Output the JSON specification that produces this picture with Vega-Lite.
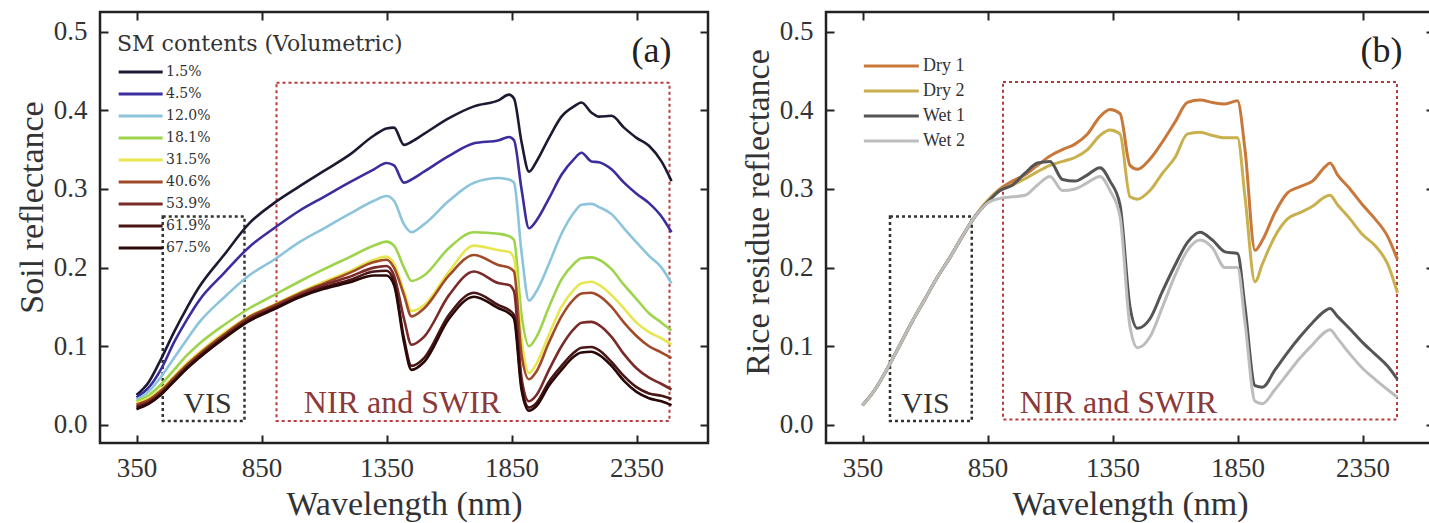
{
  "$schema": "https://vega.github.io/schema/vega-lite/v6.json",
  "background": "white",
  "padding": {"left": 14, "top": 9, "right": 0, "bottom": 0},
  "spacing": 29,
  "config": {
    "view": {"stroke": "#222222", "strokeWidth": 2.5},
    "font": "Liberation Serif"
  },
  "resolve": {"scale": {"color": "independent"}, "legend": {"color": "independent"}},
  "datasets": {
    "a": [
      {"s":"1.5%","w":350,"r":0.038},{"s":"1.5%","w":400,"r":0.055},{"s":"1.5%","w":450,"r":0.085},{"s":"1.5%","w":500,"r":0.118},{"s":"1.5%","w":550,"r":0.148},{"s":"1.5%","w":600,"r":0.175},{"s":"1.5%","w":700,"r":0.216},{"s":"1.5%","w":800,"r":0.256},{"s":"1.5%","w":900,"r":0.282},{"s":"1.5%","w":1000,"r":0.303},{"s":"1.5%","w":1100,"r":0.323},{"s":"1.5%","w":1200,"r":0.343},{"s":"1.5%","w":1300,"r":0.368},{"s":"1.5%","w":1350,"r":0.377},{"s":"1.5%","w":1380,"r":0.378},{"s":"1.5%","w":1420,"r":0.356},{"s":"1.5%","w":1450,"r":0.36},{"s":"1.5%","w":1500,"r":0.37},{"s":"1.5%","w":1600,"r":0.39},{"s":"1.5%","w":1700,"r":0.405},{"s":"1.5%","w":1800,"r":0.413},{"s":"1.5%","w":1840,"r":0.42},{"s":"1.5%","w":1860,"r":0.415},{"s":"1.5%","w":1890,"r":0.36},{"s":"1.5%","w":1920,"r":0.322},{"s":"1.5%","w":1950,"r":0.335},{"s":"1.5%","w":2000,"r":0.365},{"s":"1.5%","w":2050,"r":0.392},{"s":"1.5%","w":2100,"r":0.405},{"s":"1.5%","w":2130,"r":0.41},{"s":"1.5%","w":2170,"r":0.397},{"s":"1.5%","w":2200,"r":0.392},{"s":"1.5%","w":2250,"r":0.393},{"s":"1.5%","w":2300,"r":0.378},{"s":"1.5%","w":2350,"r":0.365},{"s":"1.5%","w":2400,"r":0.355},{"s":"1.5%","w":2450,"r":0.335},{"s":"1.5%","w":2490,"r":0.31},
      {"s":"4.5%","w":350,"r":0.035},{"s":"4.5%","w":400,"r":0.048},{"s":"4.5%","w":450,"r":0.072},{"s":"4.5%","w":500,"r":0.105},{"s":"4.5%","w":550,"r":0.133},{"s":"4.5%","w":600,"r":0.158},{"s":"4.5%","w":700,"r":0.193},{"s":"4.5%","w":800,"r":0.226},{"s":"4.5%","w":900,"r":0.25},{"s":"4.5%","w":1000,"r":0.272},{"s":"4.5%","w":1100,"r":0.29},{"s":"4.5%","w":1200,"r":0.308},{"s":"4.5%","w":1300,"r":0.325},{"s":"4.5%","w":1350,"r":0.333},{"s":"4.5%","w":1380,"r":0.33},{"s":"4.5%","w":1420,"r":0.308},{"s":"4.5%","w":1450,"r":0.312},{"s":"4.5%","w":1500,"r":0.322},{"s":"4.5%","w":1600,"r":0.342},{"s":"4.5%","w":1700,"r":0.358},{"s":"4.5%","w":1800,"r":0.362},{"s":"4.5%","w":1840,"r":0.366},{"s":"4.5%","w":1860,"r":0.362},{"s":"4.5%","w":1890,"r":0.3},{"s":"4.5%","w":1920,"r":0.25},{"s":"4.5%","w":1950,"r":0.26},{"s":"4.5%","w":2000,"r":0.288},{"s":"4.5%","w":2050,"r":0.318},{"s":"4.5%","w":2100,"r":0.338},{"s":"4.5%","w":2130,"r":0.346},{"s":"4.5%","w":2170,"r":0.335},{"s":"4.5%","w":2200,"r":0.334},{"s":"4.5%","w":2250,"r":0.325},{"s":"4.5%","w":2300,"r":0.308},{"s":"4.5%","w":2350,"r":0.294},{"s":"4.5%","w":2400,"r":0.282},{"s":"4.5%","w":2450,"r":0.265},{"s":"4.5%","w":2490,"r":0.245},
      {"s":"12.0%","w":350,"r":0.032},{"s":"12.0%","w":400,"r":0.043},{"s":"12.0%","w":450,"r":0.062},{"s":"12.0%","w":500,"r":0.085},{"s":"12.0%","w":550,"r":0.108},{"s":"12.0%","w":600,"r":0.13},{"s":"12.0%","w":700,"r":0.162},{"s":"12.0%","w":800,"r":0.19},{"s":"12.0%","w":900,"r":0.21},{"s":"12.0%","w":1000,"r":0.232},{"s":"12.0%","w":1100,"r":0.25},{"s":"12.0%","w":1200,"r":0.268},{"s":"12.0%","w":1300,"r":0.285},{"s":"12.0%","w":1350,"r":0.291},{"s":"12.0%","w":1380,"r":0.285},{"s":"12.0%","w":1420,"r":0.255},{"s":"12.0%","w":1450,"r":0.245},{"s":"12.0%","w":1500,"r":0.255},{"s":"12.0%","w":1600,"r":0.285},{"s":"12.0%","w":1700,"r":0.308},{"s":"12.0%","w":1800,"r":0.314},{"s":"12.0%","w":1840,"r":0.312},{"s":"12.0%","w":1860,"r":0.308},{"s":"12.0%","w":1890,"r":0.22},{"s":"12.0%","w":1920,"r":0.158},{"s":"12.0%","w":1950,"r":0.17},{"s":"12.0%","w":2000,"r":0.205},{"s":"12.0%","w":2050,"r":0.243},{"s":"12.0%","w":2100,"r":0.27},{"s":"12.0%","w":2130,"r":0.28},{"s":"12.0%","w":2170,"r":0.281},{"s":"12.0%","w":2200,"r":0.277},{"s":"12.0%","w":2250,"r":0.268},{"s":"12.0%","w":2300,"r":0.25},{"s":"12.0%","w":2350,"r":0.232},{"s":"12.0%","w":2400,"r":0.215},{"s":"12.0%","w":2450,"r":0.2},{"s":"12.0%","w":2490,"r":0.18},
      {"s":"18.1%","w":350,"r":0.03},{"s":"18.1%","w":400,"r":0.038},{"s":"18.1%","w":450,"r":0.052},{"s":"18.1%","w":500,"r":0.07},{"s":"18.1%","w":550,"r":0.088},{"s":"18.1%","w":600,"r":0.103},{"s":"18.1%","w":700,"r":0.127},{"s":"18.1%","w":800,"r":0.148},{"s":"18.1%","w":900,"r":0.165},{"s":"18.1%","w":1000,"r":0.182},{"s":"18.1%","w":1100,"r":0.198},{"s":"18.1%","w":1200,"r":0.213},{"s":"18.1%","w":1300,"r":0.228},{"s":"18.1%","w":1350,"r":0.233},{"s":"18.1%","w":1380,"r":0.228},{"s":"18.1%","w":1420,"r":0.2},{"s":"18.1%","w":1450,"r":0.183},{"s":"18.1%","w":1500,"r":0.19},{"s":"18.1%","w":1600,"r":0.225},{"s":"18.1%","w":1700,"r":0.245},{"s":"18.1%","w":1800,"r":0.243},{"s":"18.1%","w":1840,"r":0.24},{"s":"18.1%","w":1860,"r":0.235},{"s":"18.1%","w":1890,"r":0.14},{"s":"18.1%","w":1920,"r":0.1},{"s":"18.1%","w":1950,"r":0.112},{"s":"18.1%","w":2000,"r":0.15},{"s":"18.1%","w":2050,"r":0.185},{"s":"18.1%","w":2100,"r":0.205},{"s":"18.1%","w":2130,"r":0.212},{"s":"18.1%","w":2170,"r":0.213},{"s":"18.1%","w":2200,"r":0.21},{"s":"18.1%","w":2250,"r":0.198},{"s":"18.1%","w":2300,"r":0.178},{"s":"18.1%","w":2350,"r":0.16},{"s":"18.1%","w":2400,"r":0.142},{"s":"18.1%","w":2450,"r":0.13},{"s":"18.1%","w":2490,"r":0.12},
      {"s":"31.5%","w":350,"r":0.028},{"s":"31.5%","w":400,"r":0.034},{"s":"31.5%","w":450,"r":0.046},{"s":"31.5%","w":500,"r":0.062},{"s":"31.5%","w":550,"r":0.078},{"s":"31.5%","w":600,"r":0.092},{"s":"31.5%","w":700,"r":0.117},{"s":"31.5%","w":800,"r":0.138},{"s":"31.5%","w":900,"r":0.153},{"s":"31.5%","w":1000,"r":0.168},{"s":"31.5%","w":1100,"r":0.182},{"s":"31.5%","w":1200,"r":0.195},{"s":"31.5%","w":1300,"r":0.21},{"s":"31.5%","w":1350,"r":0.214},{"s":"31.5%","w":1380,"r":0.205},{"s":"31.5%","w":1420,"r":0.17},{"s":"31.5%","w":1450,"r":0.145},{"s":"31.5%","w":1500,"r":0.152},{"s":"31.5%","w":1600,"r":0.195},{"s":"31.5%","w":1700,"r":0.228},{"s":"31.5%","w":1800,"r":0.222},{"s":"31.5%","w":1840,"r":0.22},{"s":"31.5%","w":1860,"r":0.212},{"s":"31.5%","w":1890,"r":0.11},{"s":"31.5%","w":1920,"r":0.066},{"s":"31.5%","w":1950,"r":0.078},{"s":"31.5%","w":2000,"r":0.115},{"s":"31.5%","w":2050,"r":0.15},{"s":"31.5%","w":2100,"r":0.172},{"s":"31.5%","w":2130,"r":0.18},{"s":"31.5%","w":2170,"r":0.182},{"s":"31.5%","w":2200,"r":0.178},{"s":"31.5%","w":2250,"r":0.165},{"s":"31.5%","w":2300,"r":0.148},{"s":"31.5%","w":2350,"r":0.13},{"s":"31.5%","w":2400,"r":0.118},{"s":"31.5%","w":2450,"r":0.11},{"s":"31.5%","w":2490,"r":0.102},
      {"s":"40.6%","w":350,"r":0.026},{"s":"40.6%","w":400,"r":0.032},{"s":"40.6%","w":450,"r":0.044},{"s":"40.6%","w":500,"r":0.06},{"s":"40.6%","w":550,"r":0.076},{"s":"40.6%","w":600,"r":0.09},{"s":"40.6%","w":700,"r":0.115},{"s":"40.6%","w":800,"r":0.137},{"s":"40.6%","w":900,"r":0.152},{"s":"40.6%","w":1000,"r":0.167},{"s":"40.6%","w":1100,"r":0.18},{"s":"40.6%","w":1200,"r":0.193},{"s":"40.6%","w":1300,"r":0.207},{"s":"40.6%","w":1350,"r":0.21},{"s":"40.6%","w":1380,"r":0.2},{"s":"40.6%","w":1420,"r":0.165},{"s":"40.6%","w":1450,"r":0.138},{"s":"40.6%","w":1500,"r":0.148},{"s":"40.6%","w":1600,"r":0.19},{"s":"40.6%","w":1700,"r":0.216},{"s":"40.6%","w":1800,"r":0.203},{"s":"40.6%","w":1840,"r":0.2},{"s":"40.6%","w":1860,"r":0.195},{"s":"40.6%","w":1890,"r":0.09},{"s":"40.6%","w":1920,"r":0.058},{"s":"40.6%","w":1950,"r":0.068},{"s":"40.6%","w":2000,"r":0.105},{"s":"40.6%","w":2050,"r":0.138},{"s":"40.6%","w":2100,"r":0.16},{"s":"40.6%","w":2130,"r":0.167},{"s":"40.6%","w":2170,"r":0.168},{"s":"40.6%","w":2200,"r":0.164},{"s":"40.6%","w":2250,"r":0.15},{"s":"40.6%","w":2300,"r":0.13},{"s":"40.6%","w":2350,"r":0.113},{"s":"40.6%","w":2400,"r":0.1},{"s":"40.6%","w":2450,"r":0.092},{"s":"40.6%","w":2490,"r":0.085},
      {"s":"53.9%","w":350,"r":0.024},{"s":"53.9%","w":400,"r":0.03},{"s":"53.9%","w":450,"r":0.042},{"s":"53.9%","w":500,"r":0.058},{"s":"53.9%","w":550,"r":0.074},{"s":"53.9%","w":600,"r":0.088},{"s":"53.9%","w":700,"r":0.113},{"s":"53.9%","w":800,"r":0.135},{"s":"53.9%","w":900,"r":0.15},{"s":"53.9%","w":1000,"r":0.165},{"s":"53.9%","w":1100,"r":0.178},{"s":"53.9%","w":1200,"r":0.188},{"s":"53.9%","w":1300,"r":0.2},{"s":"53.9%","w":1350,"r":0.202},{"s":"53.9%","w":1380,"r":0.19},{"s":"53.9%","w":1420,"r":0.135},{"s":"53.9%","w":1450,"r":0.102},{"s":"53.9%","w":1500,"r":0.112},{"s":"53.9%","w":1600,"r":0.165},{"s":"53.9%","w":1700,"r":0.195},{"s":"53.9%","w":1800,"r":0.18},{"s":"53.9%","w":1840,"r":0.178},{"s":"53.9%","w":1860,"r":0.17},{"s":"53.9%","w":1890,"r":0.06},{"s":"53.9%","w":1920,"r":0.03},{"s":"53.9%","w":1950,"r":0.038},{"s":"53.9%","w":2000,"r":0.07},{"s":"53.9%","w":2050,"r":0.1},{"s":"53.9%","w":2100,"r":0.122},{"s":"53.9%","w":2130,"r":0.13},{"s":"53.9%","w":2170,"r":0.131},{"s":"53.9%","w":2200,"r":0.127},{"s":"53.9%","w":2250,"r":0.112},{"s":"53.9%","w":2300,"r":0.09},{"s":"53.9%","w":2350,"r":0.072},{"s":"53.9%","w":2400,"r":0.06},{"s":"53.9%","w":2450,"r":0.052},{"s":"53.9%","w":2490,"r":0.045},
      {"s":"61.9%","w":350,"r":0.022},{"s":"61.9%","w":400,"r":0.028},{"s":"61.9%","w":450,"r":0.04},{"s":"61.9%","w":500,"r":0.056},{"s":"61.9%","w":550,"r":0.072},{"s":"61.9%","w":600,"r":0.086},{"s":"61.9%","w":700,"r":0.111},{"s":"61.9%","w":800,"r":0.133},{"s":"61.9%","w":900,"r":0.148},{"s":"61.9%","w":1000,"r":0.163},{"s":"61.9%","w":1100,"r":0.175},{"s":"61.9%","w":1200,"r":0.184},{"s":"61.9%","w":1300,"r":0.195},{"s":"61.9%","w":1350,"r":0.196},{"s":"61.9%","w":1380,"r":0.183},{"s":"61.9%","w":1420,"r":0.11},{"s":"61.9%","w":1450,"r":0.075},{"s":"61.9%","w":1500,"r":0.085},{"s":"61.9%","w":1600,"r":0.14},{"s":"61.9%","w":1700,"r":0.168},{"s":"61.9%","w":1800,"r":0.152},{"s":"61.9%","w":1840,"r":0.146},{"s":"61.9%","w":1860,"r":0.14},{"s":"61.9%","w":1890,"r":0.05},{"s":"61.9%","w":1920,"r":0.022},{"s":"61.9%","w":1950,"r":0.028},{"s":"61.9%","w":2000,"r":0.055},{"s":"61.9%","w":2050,"r":0.075},{"s":"61.9%","w":2100,"r":0.092},{"s":"61.9%","w":2130,"r":0.098},{"s":"61.9%","w":2170,"r":0.099},{"s":"61.9%","w":2200,"r":0.095},{"s":"61.9%","w":2250,"r":0.08},{"s":"61.9%","w":2300,"r":0.062},{"s":"61.9%","w":2350,"r":0.048},{"s":"61.9%","w":2400,"r":0.04},{"s":"61.9%","w":2450,"r":0.037},{"s":"61.9%","w":2490,"r":0.033},
      {"s":"67.5%","w":350,"r":0.02},{"s":"67.5%","w":400,"r":0.027},{"s":"67.5%","w":450,"r":0.039},{"s":"67.5%","w":500,"r":0.055},{"s":"67.5%","w":550,"r":0.071},{"s":"67.5%","w":600,"r":0.085},{"s":"67.5%","w":700,"r":0.11},{"s":"67.5%","w":800,"r":0.132},{"s":"67.5%","w":900,"r":0.147},{"s":"67.5%","w":1000,"r":0.162},{"s":"67.5%","w":1100,"r":0.173},{"s":"67.5%","w":1200,"r":0.181},{"s":"67.5%","w":1300,"r":0.19},{"s":"67.5%","w":1350,"r":0.19},{"s":"67.5%","w":1380,"r":0.178},{"s":"67.5%","w":1420,"r":0.105},{"s":"67.5%","w":1450,"r":0.07},{"s":"67.5%","w":1500,"r":0.08},{"s":"67.5%","w":1600,"r":0.135},{"s":"67.5%","w":1700,"r":0.163},{"s":"67.5%","w":1800,"r":0.148},{"s":"67.5%","w":1840,"r":0.142},{"s":"67.5%","w":1860,"r":0.135},{"s":"67.5%","w":1890,"r":0.045},{"s":"67.5%","w":1920,"r":0.018},{"s":"67.5%","w":1950,"r":0.024},{"s":"67.5%","w":2000,"r":0.05},{"s":"67.5%","w":2050,"r":0.07},{"s":"67.5%","w":2100,"r":0.087},{"s":"67.5%","w":2130,"r":0.092},{"s":"67.5%","w":2170,"r":0.093},{"s":"67.5%","w":2200,"r":0.089},{"s":"67.5%","w":2250,"r":0.075},{"s":"67.5%","w":2300,"r":0.056},{"s":"67.5%","w":2350,"r":0.042},{"s":"67.5%","w":2400,"r":0.034},{"s":"67.5%","w":2450,"r":0.03},{"s":"67.5%","w":2490,"r":0.025}
    ],
    "b": [
      {"s":"Dry 1","w":350,"r":0.025},{"s":"Dry 1","w":400,"r":0.045},{"s":"Dry 1","w":450,"r":0.072},{"s":"Dry 1","w":500,"r":0.102},{"s":"Dry 1","w":550,"r":0.132},{"s":"Dry 1","w":600,"r":0.16},{"s":"Dry 1","w":650,"r":0.188},{"s":"Dry 1","w":700,"r":0.213},{"s":"Dry 1","w":750,"r":0.24},{"s":"Dry 1","w":800,"r":0.265},{"s":"Dry 1","w":850,"r":0.285},{"s":"Dry 1","w":900,"r":0.3},{"s":"Dry 1","w":950,"r":0.31},{"s":"Dry 1","w":1000,"r":0.318},{"s":"Dry 1","w":1050,"r":0.33},{"s":"Dry 1","w":1100,"r":0.342},{"s":"Dry 1","w":1150,"r":0.35},{"s":"Dry 1","w":1200,"r":0.357},{"s":"Dry 1","w":1250,"r":0.37},{"s":"Dry 1","w":1300,"r":0.392},{"s":"Dry 1","w":1340,"r":0.401},{"s":"Dry 1","w":1380,"r":0.396},{"s":"Dry 1","w":1420,"r":0.33},{"s":"Dry 1","w":1450,"r":0.325},{"s":"Dry 1","w":1500,"r":0.338},{"s":"Dry 1","w":1550,"r":0.36},{"s":"Dry 1","w":1600,"r":0.385},{"s":"Dry 1","w":1650,"r":0.41},{"s":"Dry 1","w":1700,"r":0.413},{"s":"Dry 1","w":1750,"r":0.41},{"s":"Dry 1","w":1800,"r":0.408},{"s":"Dry 1","w":1850,"r":0.412},{"s":"Dry 1","w":1880,"r":0.35},{"s":"Dry 1","w":1920,"r":0.222},{"s":"Dry 1","w":1950,"r":0.235},{"s":"Dry 1","w":2000,"r":0.27},{"s":"Dry 1","w":2050,"r":0.295},{"s":"Dry 1","w":2100,"r":0.303},{"s":"Dry 1","w":2150,"r":0.31},{"s":"Dry 1","w":2200,"r":0.328},{"s":"Dry 1","w":2220,"r":0.333},{"s":"Dry 1","w":2250,"r":0.318},{"s":"Dry 1","w":2300,"r":0.3},{"s":"Dry 1","w":2350,"r":0.28},{"s":"Dry 1","w":2400,"r":0.262},{"s":"Dry 1","w":2450,"r":0.24},{"s":"Dry 1","w":2490,"r":0.21},
      {"s":"Dry 2","w":350,"r":0.025},{"s":"Dry 2","w":400,"r":0.045},{"s":"Dry 2","w":450,"r":0.072},{"s":"Dry 2","w":500,"r":0.102},{"s":"Dry 2","w":550,"r":0.132},{"s":"Dry 2","w":600,"r":0.16},{"s":"Dry 2","w":650,"r":0.188},{"s":"Dry 2","w":700,"r":0.213},{"s":"Dry 2","w":750,"r":0.24},{"s":"Dry 2","w":800,"r":0.265},{"s":"Dry 2","w":850,"r":0.285},{"s":"Dry 2","w":900,"r":0.298},{"s":"Dry 2","w":950,"r":0.305},{"s":"Dry 2","w":1000,"r":0.313},{"s":"Dry 2","w":1050,"r":0.322},{"s":"Dry 2","w":1100,"r":0.33},{"s":"Dry 2","w":1150,"r":0.335},{"s":"Dry 2","w":1200,"r":0.34},{"s":"Dry 2","w":1250,"r":0.35},{"s":"Dry 2","w":1300,"r":0.368},{"s":"Dry 2","w":1340,"r":0.375},{"s":"Dry 2","w":1380,"r":0.37},{"s":"Dry 2","w":1420,"r":0.29},{"s":"Dry 2","w":1450,"r":0.287},{"s":"Dry 2","w":1500,"r":0.298},{"s":"Dry 2","w":1550,"r":0.32},{"s":"Dry 2","w":1600,"r":0.34},{"s":"Dry 2","w":1650,"r":0.37},{"s":"Dry 2","w":1700,"r":0.372},{"s":"Dry 2","w":1750,"r":0.368},{"s":"Dry 2","w":1800,"r":0.365},{"s":"Dry 2","w":1850,"r":0.365},{"s":"Dry 2","w":1880,"r":0.29},{"s":"Dry 2","w":1920,"r":0.182},{"s":"Dry 2","w":1950,"r":0.205},{"s":"Dry 2","w":2000,"r":0.24},{"s":"Dry 2","w":2050,"r":0.262},{"s":"Dry 2","w":2100,"r":0.27},{"s":"Dry 2","w":2150,"r":0.278},{"s":"Dry 2","w":2200,"r":0.29},{"s":"Dry 2","w":2220,"r":0.292},{"s":"Dry 2","w":2250,"r":0.28},{"s":"Dry 2","w":2300,"r":0.262},{"s":"Dry 2","w":2350,"r":0.242},{"s":"Dry 2","w":2400,"r":0.228},{"s":"Dry 2","w":2450,"r":0.205},{"s":"Dry 2","w":2490,"r":0.168},
      {"s":"Wet 1","w":350,"r":0.025},{"s":"Wet 1","w":400,"r":0.045},{"s":"Wet 1","w":450,"r":0.072},{"s":"Wet 1","w":500,"r":0.102},{"s":"Wet 1","w":550,"r":0.132},{"s":"Wet 1","w":600,"r":0.16},{"s":"Wet 1","w":650,"r":0.188},{"s":"Wet 1","w":700,"r":0.213},{"s":"Wet 1","w":750,"r":0.24},{"s":"Wet 1","w":800,"r":0.265},{"s":"Wet 1","w":850,"r":0.283},{"s":"Wet 1","w":900,"r":0.298},{"s":"Wet 1","w":950,"r":0.305},{"s":"Wet 1","w":1000,"r":0.32},{"s":"Wet 1","w":1050,"r":0.333},{"s":"Wet 1","w":1100,"r":0.335},{"s":"Wet 1","w":1150,"r":0.312},{"s":"Wet 1","w":1200,"r":0.31},{"s":"Wet 1","w":1250,"r":0.318},{"s":"Wet 1","w":1300,"r":0.327},{"s":"Wet 1","w":1340,"r":0.31},{"s":"Wet 1","w":1380,"r":0.28},{"s":"Wet 1","w":1420,"r":0.15},{"s":"Wet 1","w":1450,"r":0.123},{"s":"Wet 1","w":1500,"r":0.135},{"s":"Wet 1","w":1550,"r":0.17},{"s":"Wet 1","w":1600,"r":0.203},{"s":"Wet 1","w":1650,"r":0.232},{"s":"Wet 1","w":1700,"r":0.245},{"s":"Wet 1","w":1750,"r":0.235},{"s":"Wet 1","w":1800,"r":0.22},{"s":"Wet 1","w":1850,"r":0.218},{"s":"Wet 1","w":1880,"r":0.15},{"s":"Wet 1","w":1920,"r":0.05},{"s":"Wet 1","w":1950,"r":0.048},{"s":"Wet 1","w":2000,"r":0.07},{"s":"Wet 1","w":2050,"r":0.092},{"s":"Wet 1","w":2100,"r":0.112},{"s":"Wet 1","w":2150,"r":0.13},{"s":"Wet 1","w":2200,"r":0.145},{"s":"Wet 1","w":2220,"r":0.148},{"s":"Wet 1","w":2250,"r":0.138},{"s":"Wet 1","w":2300,"r":0.122},{"s":"Wet 1","w":2350,"r":0.105},{"s":"Wet 1","w":2400,"r":0.09},{"s":"Wet 1","w":2450,"r":0.075},{"s":"Wet 1","w":2490,"r":0.058},
      {"s":"Wet 2","w":350,"r":0.025},{"s":"Wet 2","w":400,"r":0.045},{"s":"Wet 2","w":450,"r":0.072},{"s":"Wet 2","w":500,"r":0.102},{"s":"Wet 2","w":550,"r":0.132},{"s":"Wet 2","w":600,"r":0.16},{"s":"Wet 2","w":650,"r":0.188},{"s":"Wet 2","w":700,"r":0.213},{"s":"Wet 2","w":750,"r":0.24},{"s":"Wet 2","w":800,"r":0.265},{"s":"Wet 2","w":850,"r":0.282},{"s":"Wet 2","w":900,"r":0.288},{"s":"Wet 2","w":950,"r":0.29},{"s":"Wet 2","w":1000,"r":0.292},{"s":"Wet 2","w":1050,"r":0.305},{"s":"Wet 2","w":1100,"r":0.316},{"s":"Wet 2","w":1150,"r":0.298},{"s":"Wet 2","w":1200,"r":0.3},{"s":"Wet 2","w":1250,"r":0.308},{"s":"Wet 2","w":1300,"r":0.316},{"s":"Wet 2","w":1340,"r":0.298},{"s":"Wet 2","w":1380,"r":0.265},{"s":"Wet 2","w":1420,"r":0.125},{"s":"Wet 2","w":1450,"r":0.098},{"s":"Wet 2","w":1500,"r":0.112},{"s":"Wet 2","w":1550,"r":0.15},{"s":"Wet 2","w":1600,"r":0.19},{"s":"Wet 2","w":1650,"r":0.222},{"s":"Wet 2","w":1700,"r":0.235},{"s":"Wet 2","w":1750,"r":0.225},{"s":"Wet 2","w":1800,"r":0.2},{"s":"Wet 2","w":1850,"r":0.2},{"s":"Wet 2","w":1880,"r":0.13},{"s":"Wet 2","w":1920,"r":0.03},{"s":"Wet 2","w":1950,"r":0.027},{"s":"Wet 2","w":2000,"r":0.045},{"s":"Wet 2","w":2050,"r":0.065},{"s":"Wet 2","w":2100,"r":0.085},{"s":"Wet 2","w":2150,"r":0.102},{"s":"Wet 2","w":2200,"r":0.118},{"s":"Wet 2","w":2220,"r":0.121},{"s":"Wet 2","w":2250,"r":0.11},{"s":"Wet 2","w":2300,"r":0.09},{"s":"Wet 2","w":2350,"r":0.072},{"s":"Wet 2","w":2400,"r":0.058},{"s":"Wet 2","w":2450,"r":0.045},{"s":"Wet 2","w":2490,"r":0.035}
    ]
  },
  "hconcat": [
    {
      "width": 608,
      "height": 431,
      "resolve": {"axis": {"x": "independent", "y": "independent"}},
      "layer": [
        {
          "data": {"values": [{"x": 455, "x2": 782, "y": 0.005, "y2": 0.265}]},
          "mark": {"type": "rect", "filled": false, "color": "#333333", "strokeWidth": 2.5, "strokeDash": [3, 3]},
          "encoding": {
            "x": {"field": "x", "type": "quantitative", "scale": {"domain": [204, 2636], "nice": false, "zero": false}, "axis": null},
            "x2": {"field": "x2"},
            "y": {"field": "y", "type": "quantitative", "scale": {"domain": [-0.023, 0.525], "nice": false, "zero": false}, "axis": null},
            "y2": {"field": "y2"}
          }
        },
        {
          "data": {"values": [{"x": 910, "x2": 2482, "y": 0.005, "y2": 0.435}]},
          "mark": {"type": "rect", "filled": false, "color": "#b83a3a", "strokeWidth": 2, "strokeDash": [3, 3]},
          "encoding": {
            "x": {"field": "x", "type": "quantitative", "scale": {"domain": [204, 2636], "nice": false, "zero": false}, "axis": null},
            "x2": {"field": "x2"},
            "y": {"field": "y", "type": "quantitative", "scale": {"domain": [-0.023, 0.525], "nice": false, "zero": false}, "axis": null},
            "y2": {"field": "y2"}
          }
        },
        {
          "data": {"name": "a"},
          "mark": {"type": "line", "strokeWidth": 2.6, "interpolate": "monotone"},
          "encoding": {
            "x": {"field": "w", "type": "quantitative", "scale": {"domain": [204, 2636], "nice": false, "zero": false},
              "axis": {"values": [350, 850, 1350, 1850, 2350], "format": "d", "title": "Wavelength (nm)", "tickSize": -8, "tickWidth": 2, "tickColor": "#222222", "domain": false, "grid": false, "labelPadding": 20, "labelFontSize": 27, "labelColor": "#333333", "labelFont": "Liberation Serif", "labelFlush": false, "labelOverlap": false, "titleFont": "Liberation Serif", "titleFontSize": 34, "titleFontWeight": "normal", "titleColor": "#333333", "titlePadding": 6}},
            "y": {"field": "r", "type": "quantitative", "scale": {"domain": [-0.023, 0.525], "nice": false, "zero": false},
              "axis": {"values": [0, 0.1, 0.2, 0.3, 0.4, 0.5], "format": ".1f", "title": "Soil reflectance", "tickSize": -8, "tickWidth": 2, "tickColor": "#222222", "domain": false, "grid": false, "labelPadding": 21, "labelFontSize": 27, "labelColor": "#333333", "labelFont": "Liberation Serif", "labelFlush": false, "labelOverlap": false, "titleFont": "Liberation Serif", "titleFontSize": 34, "titleFontWeight": "normal", "titleColor": "#333333", "titlePadding": 4, "titleY": 195}},
            "color": {"field": "s", "type": "nominal",
              "scale": {"domain": ["1.5%", "4.5%", "12.0%", "18.1%", "31.5%", "40.6%", "53.9%", "61.9%", "67.5%"], "range": ["#1c1a33", "#3b2d9e", "#8cc4dc", "#9ed44c", "#e8e650", "#a04a2a", "#7a2a28", "#4a1515", "#2a0808"]},
              "legend": {"orient": "none", "legendX": 17, "legendY": 22, "title": "SM contents (Volumetric)", "titleFont": "DejaVu Serif", "titleFontSize": 22, "titleFontWeight": "normal", "titleColor": "#333333", "titlePadding": 7, "titleLimit": 400, "labelFont": "DejaVu Serif", "labelFontSize": 14, "labelColor": "#333333", "symbolType": "M-1,0H5", "symbolSize": 215, "symbolStrokeWidth": 3, "labelOffset": 31, "rowPadding": 6, "padding": 0}}
          }
        },
        {
          "data": {"values": [{"x": 634, "y": 0.015, "t": "VIS"}]},
          "mark": {"type": "text", "font": "Liberation Serif", "fontSize": 30, "color": "#333333", "align": "center", "baseline": "alphabetic"},
          "encoding": {
            "x": {"field": "x", "type": "quantitative", "scale": {"domain": [204, 2636], "nice": false, "zero": false}, "axis": null},
            "y": {"field": "y", "type": "quantitative", "scale": {"domain": [-0.023, 0.525], "nice": false, "zero": false}, "axis": null},
            "text": {"field": "t"}
          }
        },
        {
          "data": {"values": [{"x": 1414, "y": 0.015, "t": "NIR and SWIR"}]},
          "mark": {"type": "text", "font": "Liberation Serif", "fontSize": 32, "color": "#8b3a3a", "align": "center", "baseline": "alphabetic"},
          "encoding": {
            "x": {"field": "x", "type": "quantitative", "scale": {"domain": [204, 2636], "nice": false, "zero": false}, "axis": null},
            "y": {"field": "y", "type": "quantitative", "scale": {"domain": [-0.023, 0.525], "nice": false, "zero": false}, "axis": null},
            "text": {"field": "t"}
          }
        },
        {
          "data": {"values": [{"x": 2490, "y": 0.462, "t": "(a)"}]},
          "mark": {"type": "text", "font": "Liberation Serif", "fontSize": 36, "color": "#222222", "align": "right", "baseline": "alphabetic"},
          "encoding": {
            "x": {"field": "x", "type": "quantitative", "scale": {"domain": [204, 2636], "nice": false, "zero": false}, "axis": null},
            "y": {"field": "y", "type": "quantitative", "scale": {"domain": [-0.023, 0.525], "nice": false, "zero": false}, "axis": null},
            "text": {"field": "t"}
          }
        },
        {
          "data": {"name": "a"},
          "mark": {"type": "point", "opacity": 0, "size": 0},
          "encoding": {
            "x": {"field": "w", "type": "quantitative", "scale": {"domain": [204, 2636], "nice": false, "zero": false},
              "axis": {"orient": "top", "values": [350, 850, 1350, 1850, 2350], "labels": false, "title": null, "tickSize": -8, "tickWidth": 2, "tickColor": "#222222", "domain": false, "grid": false}},
            "y": {"field": "r", "type": "quantitative", "scale": {"domain": [-0.023, 0.525], "nice": false, "zero": false},
              "axis": {"orient": "right", "values": [0, 0.1, 0.2, 0.3, 0.4, 0.5], "labels": false, "title": null, "tickSize": -8, "tickWidth": 2, "tickColor": "#222222", "domain": false, "grid": false}}
          }
        }
      ]
    },
    {
      "width": 608,
      "height": 431,
      "resolve": {"axis": {"x": "independent", "y": "independent"}},
      "layer": [
        {
          "data": {"values": [{"x": 460, "x2": 787, "y": 0.005, "y2": 0.265}]},
          "mark": {"type": "rect", "filled": false, "color": "#333333", "strokeWidth": 2.5, "strokeDash": [3, 3]},
          "encoding": {
            "x": {"field": "x", "type": "quantitative", "scale": {"domain": [204, 2636], "nice": false, "zero": false}, "axis": null},
            "x2": {"field": "x2"},
            "y": {"field": "y", "type": "quantitative", "scale": {"domain": [-0.023, 0.525], "nice": false, "zero": false}, "axis": null},
            "y2": {"field": "y2"}
          }
        },
        {
          "data": {"values": [{"x": 912, "x2": 2488, "y": 0.007, "y2": 0.436}]},
          "mark": {"type": "rect", "filled": false, "color": "#b83a3a", "strokeWidth": 2, "strokeDash": [3, 3]},
          "encoding": {
            "x": {"field": "x", "type": "quantitative", "scale": {"domain": [204, 2636], "nice": false, "zero": false}, "axis": null},
            "x2": {"field": "x2"},
            "y": {"field": "y", "type": "quantitative", "scale": {"domain": [-0.023, 0.525], "nice": false, "zero": false}, "axis": null},
            "y2": {"field": "y2"}
          }
        },
        {
          "data": {"name": "b"},
          "mark": {"type": "line", "strokeWidth": 3, "interpolate": "monotone"},
          "encoding": {
            "x": {"field": "w", "type": "quantitative", "scale": {"domain": [204, 2636], "nice": false, "zero": false},
              "axis": {"values": [350, 850, 1350, 1850, 2350], "format": "d", "title": "Wavelength (nm)", "tickSize": -8, "tickWidth": 2, "tickColor": "#222222", "domain": false, "grid": false, "labelPadding": 20, "labelFontSize": 27, "labelColor": "#333333", "labelFont": "Liberation Serif", "labelFlush": false, "labelOverlap": false, "titleFont": "Liberation Serif", "titleFontSize": 34, "titleFontWeight": "normal", "titleColor": "#333333", "titlePadding": 6}},
            "y": {"field": "r", "type": "quantitative", "scale": {"domain": [-0.023, 0.525], "nice": false, "zero": false},
              "axis": {"values": [0, 0.1, 0.2, 0.3, 0.4, 0.5], "format": ".1f", "title": "Rice residue reflectance", "tickSize": -8, "tickWidth": 2, "tickColor": "#222222", "domain": false, "grid": false, "labelPadding": 21, "labelFontSize": 27, "labelColor": "#333333", "labelFont": "Liberation Serif", "labelFlush": false, "labelOverlap": false, "titleFont": "Liberation Serif", "titleFontSize": 34, "titleFontWeight": "normal", "titleColor": "#333333", "titlePadding": 4, "titleY": 200}},
            "color": {"field": "s", "type": "nominal",
              "scale": {"domain": ["Dry 1", "Dry 2", "Wet 1", "Wet 2"], "range": ["#c8783a", "#c9b04e", "#555555", "#bdbdbd"]},
              "legend": {"orient": "none", "legendX": 36, "legendY": 43, "title": null, "labelFont": "Liberation Serif", "labelFontSize": 18, "labelColor": "#333333", "symbolType": "M-1,0H5", "symbolSize": 336, "symbolStrokeWidth": 3, "labelOffset": 39, "rowPadding": 5, "padding": 0}}
          }
        },
        {
          "data": {"values": [{"x": 602, "y": 0.015, "t": "VIS"}]},
          "mark": {"type": "text", "font": "Liberation Serif", "fontSize": 30, "color": "#333333", "align": "center", "baseline": "alphabetic"},
          "encoding": {
            "x": {"field": "x", "type": "quantitative", "scale": {"domain": [204, 2636], "nice": false, "zero": false}, "axis": null},
            "y": {"field": "y", "type": "quantitative", "scale": {"domain": [-0.023, 0.525], "nice": false, "zero": false}, "axis": null},
            "text": {"field": "t"}
          }
        },
        {
          "data": {"values": [{"x": 1374, "y": 0.015, "t": "NIR and SWIR"}]},
          "mark": {"type": "text", "font": "Liberation Serif", "fontSize": 32, "color": "#8b3a3a", "align": "center", "baseline": "alphabetic"},
          "encoding": {
            "x": {"field": "x", "type": "quantitative", "scale": {"domain": [204, 2636], "nice": false, "zero": false}, "axis": null},
            "y": {"field": "y", "type": "quantitative", "scale": {"domain": [-0.023, 0.525], "nice": false, "zero": false}, "axis": null},
            "text": {"field": "t"}
          }
        },
        {
          "data": {"values": [{"x": 2510, "y": 0.462, "t": "(b)"}]},
          "mark": {"type": "text", "font": "Liberation Serif", "fontSize": 36, "color": "#222222", "align": "right", "baseline": "alphabetic"},
          "encoding": {
            "x": {"field": "x", "type": "quantitative", "scale": {"domain": [204, 2636], "nice": false, "zero": false}, "axis": null},
            "y": {"field": "y", "type": "quantitative", "scale": {"domain": [-0.023, 0.525], "nice": false, "zero": false}, "axis": null},
            "text": {"field": "t"}
          }
        },
        {
          "data": {"name": "b"},
          "mark": {"type": "point", "opacity": 0, "size": 0},
          "encoding": {
            "x": {"field": "w", "type": "quantitative", "scale": {"domain": [204, 2636], "nice": false, "zero": false},
              "axis": {"orient": "top", "values": [350, 850, 1350, 1850, 2350], "labels": false, "title": null, "tickSize": -8, "tickWidth": 2, "tickColor": "#222222", "domain": false, "grid": false}},
            "y": {"field": "r", "type": "quantitative", "scale": {"domain": [-0.023, 0.525], "nice": false, "zero": false},
              "axis": {"orient": "right", "values": [0, 0.1, 0.2, 0.3, 0.4, 0.5], "labels": false, "title": null, "tickSize": -8, "tickWidth": 2, "tickColor": "#222222", "domain": false, "grid": false}}
          }
        }
      ]
    }
  ]
}
